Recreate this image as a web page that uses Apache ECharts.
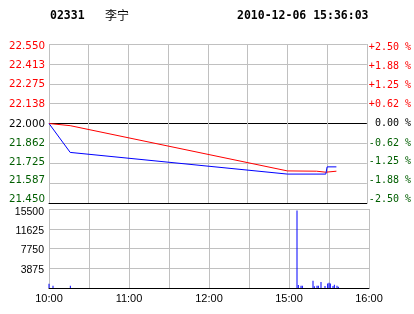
<!DOCTYPE html>
<html><head><meta charset="utf-8">
<script src="https://cdn.jsdelivr.net/npm/echarts/dist/echarts.min.js"></script>
<style>html,body{margin:0;padding:0;background:#fff;}#c{width:414px;height:314px;}</style>
</head><body><div id="c"></div>
<script>
// ---- data ----
const stockCode = '02331';
const stockName = '李宁';
const stamp = '2010-12-06 15:36:03';
const priceTicks = ['21.450','21.587','21.725','21.862','22.000','22.138','22.275','22.413','22.550'];
const pctTicks = ['-2.50 %','-1.88 %','-1.25 %','-0.62 %',' 0.00 %','+0.62 %','+1.25 %','+1.88 %','+2.50 %'];
const volTicks = ['','3875','7750','11625','15500'];
const timeTicks = ['10:00','','11:00','','12:00','','15:00','','16:00'];
const priceTimes = ['10:00','10:16','15:00','15:29','15:30','15:37'];
const prices = [22.00, 21.80, 21.65, 21.65, 21.70, 21.70];
const avgTimes = ['10:00','10:16','15:00','15:22','15:23','15:29','15:30','15:37'];
const avgPrices = [22.00, 21.985, 21.672, 21.670, 21.663, 21.663, 21.670, 21.670];
const volTimes = ['10:00','10:03','10:16','15:06','15:07','15:09','15:10','15:18','15:19','15:21','15:22','15:24','15:27','15:29','15:30','15:31','15:33','15:34','15:36','15:37'];
const volumes = [850, 450, 450, 15200, 600, 450, 450, 1430, 350, 450, 450, 1180, 390, 900, 1050, 900, 390, 650, 450, 250];

// trading-minute index (10:00-12:30, 14:30-16:00)
function tradeMin(t) {
  const [h, m] = t.split(':').map(Number);
  const tot = h * 60 + m;
  return tot <= 750 ? tot - 600 : tot - 870 + 150;
}
const pair = (ts, vs) => ts.map((t, i) => [tradeMin(t), vs[i]]);

const RED = '#ff0000', GREEN = '#005e00', GRAY = '#c0c0c0';
function richFor(colors, offsets, font, size) {
  const r = {};
  offsets.forEach((d, i) => {
    r['a' + i] = {
      color: colors[i], fontFamily: font, fontSize: size,
      padding: d >= 0 ? [2 * d, 0, 0, 0] : [0, 0, -2 * d, 0]
    };
  });
  return r;
}
const priceColors = priceTicks.map((_, i) => i < 4 ? GREEN : (i === 4 ? '#000' : RED));
const leftOff = [-3.6, -2.7, -0.8, 0.3, 0.4, 0.7, 1, 1.7, 2.7];
const rightOff = [-3.8, -3.2, -1.5, -0.3, 0.2, 0.9, 1.9, 2.9, 3.8];
const volOff = [0, 1.7, 1.6, 2.4, 3.3];

function idxLabel(arr) {
  return function (v, i) { return '{a' + i + '|' + arr[i] + '}'; };
}

const chart = echarts.init(document.getElementById('c'), null, { renderer: 'canvas' });
const titleStyle = { fontFamily: 'DejaVu Sans Mono', fontWeight: 'bold', fontSize: 11.5, color: '#000' };
chart.setOption({
  animation: false,
  backgroundColor: '#fff',
  title: [
    { text: stockCode, left: 50, top: 10, padding: 0, textStyle: titleStyle },
    { text: stockName, left: 105, top: 9, padding: 0, textStyle: { fontFamily: 'Noto Sans CJK SC', fontWeight: 'normal', fontSize: 12, color: '#000' } },
    { text: stamp, left: 237, top: 10, padding: 0, textStyle: titleStyle }
  ],
  grid: [
    { left: 49, top: 44, width: 320, height: 159 },
    { left: 49, top: 209, width: 320, height: 79 }
  ],
  xAxis: [
    { type: 'value', gridIndex: 0, min: 0, max: 240, interval: 30,
      axisLine: { show: true, onZero: false, lineStyle: { color: '#000', width: 1 } },
      axisTick: { show: false }, axisLabel: { show: false },
      splitLine: { show: true, lineStyle: { color: GRAY, width: 1 } } },
    { type: 'value', gridIndex: 1, min: 0, max: 240, interval: 30,
      axisLine: { show: true, onZero: false, lineStyle: { color: '#000', width: 1 } },
      axisTick: { show: false },
      axisLabel: { show: true, margin: 5, color: '#000', fontFamily: 'Liberation Sans', fontSize: 11,
        formatter: function (v) { return timeTicks[Math.round(v / 30)] || ''; } },
      splitLine: { show: true, lineStyle: { color: GRAY, width: 1 } } }
  ],
  yAxis: [
    { type: 'value', gridIndex: 0, min: 21.45, max: 22.55, interval: 0.1375, position: 'left',
      axisLine: { show: false }, axisTick: { show: false },
      axisLabel: { margin: 4, formatter: idxLabel(priceTicks),
        rich: richFor(priceColors, leftOff, 'DejaVu Sans', 10.3) },
      splitLine: { show: true, lineStyle: { width: 1,
        color: ['#000', GRAY, GRAY, GRAY, '#000', GRAY, GRAY, GRAY, GRAY] } } },
    { type: 'value', gridIndex: 0, min: 21.45, max: 22.55, interval: 0.1375, position: 'right',
      axisLine: { show: false }, axisTick: { show: false },
      axisLabel: { margin: 2, align: 'left', formatter: idxLabel(pctTicks),
        rich: richFor(priceColors, rightOff, 'DejaVu Sans Mono', 10) },
      splitLine: { show: false } },
    { type: 'value', gridIndex: 1, min: 0, max: 15500, interval: 3875, position: 'left',
      axisLine: { show: false }, axisTick: { show: false },
      axisLabel: { margin: 5, formatter: idxLabel(volTicks),
        rich: richFor(volTicks.map(() => '#000'), volOff, 'Liberation Sans', 10.5) },
      splitLine: { show: true, lineStyle: { color: GRAY, width: 1 } } }
  ],
  series: [
    { type: 'line', name: 'avg', xAxisIndex: 0, yAxisIndex: 0, data: pair(avgTimes, avgPrices),
      showSymbol: false, symbol: 'none', lineStyle: { color: RED, width: 1 }, z: 3 },
    { type: 'line', name: 'price', xAxisIndex: 0, yAxisIndex: 0, data: pair(priceTimes, prices),
      showSymbol: false, symbol: 'none', lineStyle: { color: '#0000ff', width: 1 }, z: 4 },
    { type: 'bar', name: 'vol', xAxisIndex: 1, yAxisIndex: 2, data: pair(volTimes, volumes),
      barWidth: 1, itemStyle: { color: '#0000ff' } }
  ]
});
</script>
</body></html>
